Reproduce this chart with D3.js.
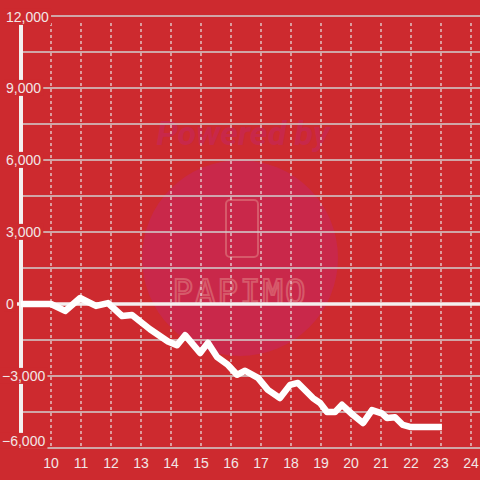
<!DOCTYPE html>
<html>
<head>
<meta charset="utf-8">
<script src="https://cdn.jsdelivr.net/npm/d3@7"></script>
<style>
  html, body { margin: 0; padding: 0; background: #cd2a2f; }
  svg { display: block; }
</style>
</head>
<body>
<svg width="480" height="480"></svg>
<script>
// значения
const times = [9, 10, 10.47, 10.97, 11.5, 11.9, 12.37, 12.7, 13.3, 13.9, 14.2, 14.47, 14.97, 15.23,
  15.53, 15.9, 16.2, 16.47, 16.9, 17.23, 17.63, 17.97, 18.23, 18.73, 18.97, 19.2, 19.47, 19.7,
  20.07, 20.4, 20.7, 21.03, 21.2, 21.47, 21.73, 21.97, 23.03];
const values = [0, 0, -290, 250, -80, 40, -500, -460, -1050, -1560, -1720, -1300, -2040, -1620,
  -2200, -2540, -2950, -2780, -3080, -3580, -3920, -3370, -3290, -3920, -4125, -4500, -4500, -4200,
  -4625, -4960, -4420, -4560, -4750, -4720, -5040, -5120, -5120];
const xTicks = [10, 11, 12, 13, 14, 15, 16, 17, 18, 19, 20, 21, 22, 23, 24];
const yLabelTicks = [12000, 9000, 6000, 3000, 0, -3000, -6000];
const yGridTicks = d3.range(-6000, 12001, 1500);

const svg = d3.select("svg");
const bg = "#cd2a2f";
const light = "#f2e6e6";

const attr_area = { left: 21, right: 480, top: 16, bottom: 448 };

const scX = d3.scaleLinear().domain([9, 24.3]).range([attr_area.left, attr_area.right]);
const scY = d3.scaleLinear().domain([-6000, 12000]).range([attr_area.bottom, attr_area.top]);

// водяной знак
const wm = svg.append("g");
wm.append("circle").attr("cx", 240).attr("cy", 258).attr("r", 98).style("fill", "#c9284a");
wm.append("text").attr("x", 243).attr("y", 145).attr("text-anchor", "middle")
  .style("font-family", "Roboto, sans-serif").style("font-size", "34px")
  .style("font-weight", "bold").style("font-style", "italic")
  .style("fill", "#c8284a").text("Powered by");
wm.append("rect").attr("x", 226).attr("y", 200).attr("width", 32).attr("height", 57).attr("rx", 4)
  .style("fill", "none").style("stroke", "#d65a6a").style("stroke-width", 2);
wm.append("text").attr("x", 240).attr("y", 304).attr("text-anchor", "middle")
  .style("font-family", "'DejaVu Sans Mono', monospace").style("font-size", "34px")
  .style("letter-spacing", "2px")
  .style("fill", "none").style("stroke", "#d65a6a").style("stroke-width", 2).text("PAPIMO");

// сетка
svg.append("g").selectAll("line").data(yGridTicks).enter().append("line")
  .attr("x1", attr_area.left).attr("x2", attr_area.right)
  .attr("y1", d => scY(d)).attr("y2", d => scY(d))
  .style("stroke", "#d0d0d0").style("stroke-width", 1.5);

svg.append("g").selectAll("line").data(xTicks).enter().append("line")
  .attr("x1", d => scX(d)).attr("x2", d => scX(d))
  .attr("y1", 23).attr("y2", attr_area.bottom)
  .style("stroke", "#e8e8e8").style("stroke-width", 1.2).style("stroke-dasharray", "3,3");

// ось Y
svg.append("line").attr("x1", attr_area.left).attr("x2", attr_area.left)
  .attr("y1", attr_area.top).attr("y2", attr_area.bottom)
  .style("stroke", "#f4f0f0").style("stroke-width", 4);

// подписи оси Y (с фоном, который перекрывает ось и сетку)
const fmt = d3.format(",");
const labelY = d => Math.min(Math.max(scY(d), 17), attr_area.bottom - 7);
const yl = svg.append("g").selectAll("g").data(yLabelTicks).enter().append("g");
yl.append("text").attr("x", d => d < 0 ? 2 : 6).attr("y", labelY).attr("dy", "0.35em")
  .attr("text-anchor", "start")
  .style("font-family", "'Liberation Sans', Arial, sans-serif").style("font-size", "14px")
  .style("fill", light).text(d => fmt(d));
yl.each(function() {
  const t = d3.select(this).select("text");
  const b = t.node().getBBox();
  d3.select(this).insert("rect", "text")
    .attr("x", b.x - 2).attr("y", b.y).attr("width", b.width + 4).attr("height", b.height)
    .style("fill", bg);
});

// нулевая линия
svg.append("line").attr("x1", attr_area.left - 4).attr("x2", attr_area.right)
  .attr("y1", scY(0)).attr("y2", scY(0))
  .style("stroke", "#f4f0f0").style("stroke-width", 3.5);

// линия данных
const lineGen = d3.line().x(d => scX(d[0])).y(d => scY(d[1])).curve(d3.curveLinear);
svg.append("path").datum(times.map((t, i) => [t, values[i]]))
  .attr("d", lineGen)
  .style("fill", "none").style("stroke", "#ffffff").style("stroke-width", 6.5)
  .style("stroke-linejoin", "round").style("stroke-linecap", "butt");

// подписи оси X
svg.append("g").selectAll("text").data(xTicks).enter().append("text")
  .attr("x", d => scX(d)).attr("y", 468).attr("text-anchor", "middle")
  .style("font-family", "'Liberation Sans', Arial, sans-serif").style("font-size", "14px")
  .style("fill", light).text(d => d);
</script>
</body>
</html>
